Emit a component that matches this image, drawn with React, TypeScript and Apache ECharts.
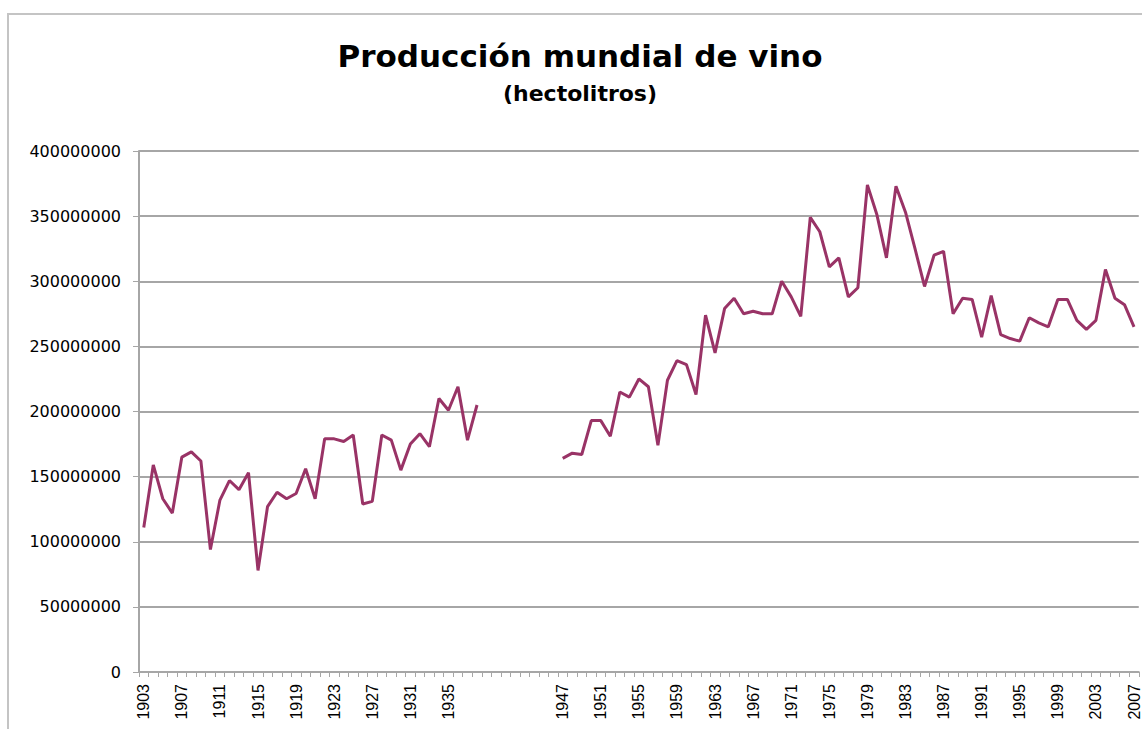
import React, { useEffect, useRef } from "react";
import * as echarts from "echarts";

const titleText = "Producción mundial de vino";
const subtitleText = "(hectolitros)";

// Millions of hectolitres, 1903-1938
const earlyStartYear = 1903;
const earlyValuesM = [
  111, 159, 133, 122, 165, 169, 162, 94, 132, 147,
  140, 153, 78, 127, 138, 133, 137, 156, 133, 179,
  179, 177, 182, 129, 131, 182, 178, 155, 175, 183,
  173, 210, 201, 219, 178, 205,
];

// Millions of hectolitres, 1947-2007
const lateStartYear = 1947;
const lateValuesM = [
  164, 168, 167, 193, 193, 181, 215, 211, 225, 219,
  174, 224, 239, 236, 213, 274, 245, 279, 287, 275,
  277, 275, 275, 300, 288, 273, 349, 338, 311, 318,
  288, 295, 374, 351, 318, 373, 353, 325, 296, 320,
  323, 275, 287, 286, 257, 289, 259, 256, 254, 272,
  268, 265, 286, 286, 270, 263, 270, 309, 287, 282,
  265,
];

const firstYear = 1903;
const lastYear = 2007;
const yTicks = [0, 50000000, 100000000, 150000000, 200000000, 250000000, 300000000, 350000000, 400000000];

export default function App() {
  const ref = useRef<HTMLDivElement>(null);

  useEffect(() => {
    if (!ref.current) return;
    const chart = echarts.init(ref.current, undefined, { renderer: "svg" });

    const years: string[] = [];
    const values: (number | null)[] = [];
    for (let y = firstYear; y <= lastYear; y++) {
      years.push(String(y));
      let v: number | null = null;
      const ei = y - earlyStartYear;
      const li = y - lateStartYear;
      if (ei >= 0 && ei < earlyValuesM.length) v = earlyValuesM[ei] * 1e6;
      if (li >= 0 && li < lateValuesM.length) v = lateValuesM[li] * 1e6;
      values.push(v);
    }

    const axisGray = "#a6a6a6";
    const font = "'DejaVu Sans', 'Liberation Sans', Arial, sans-serif";

    chart.setOption({
      animation: false,
      backgroundColor: "#ffffff",
      graphic: [
        {
          type: "rect",
          shape: { x: 8, y: 14, width: 1300, height: 900 },
          style: { fill: "none", stroke: "#c4c4c4", lineWidth: 2 },
          silent: true,
        },
        {
          type: "text",
          x: 580,
          y: 56,
          style: {
            text: titleText,
            font: `bold 31px ${font}`,
            fill: "#000000",
            align: "center",
            verticalAlign: "middle",
          },
        },
        {
          type: "text",
          x: 580,
          y: 93,
          style: {
            text: subtitleText,
            font: `bold 22px ${font}`,
            fill: "#000000",
            align: "center",
            verticalAlign: "middle",
          },
        },
      ],
      grid: { left: 139, right: 2, top: 151, bottom: 57, containLabel: false },
      xAxis: {
        type: "category",
        data: years,
        boundaryGap: true,
        axisLine: { show: true, lineStyle: { color: axisGray, width: 2 } },
        axisTick: { show: true, interval: 0, length: 5, lineStyle: { color: axisGray, width: 1 } },
        axisLabel: {
          interval: 3,
          rotate: 90,
          margin: 12,
          fontSize: 16,
          fontFamily: "'Liberation Sans', Arial, sans-serif",
          color: "#000000",
          formatter: (val: string, idx: number) => (values[idx] == null ? "" : val),
        },
        splitLine: { show: false },
      },
      yAxis: {
        type: "value",
        min: yTicks[0],
        max: yTicks[yTicks.length - 1],
        interval: yTicks[1] - yTicks[0],
        axisLine: { show: true, lineStyle: { color: axisGray, width: 2 } },
        axisTick: { show: true, inside: false, length: 6, lineStyle: { color: axisGray, width: 1 } },
        axisLabel: {
          margin: 18,
          fontSize: 16,
          fontFamily: font,
          color: "#000000",
          formatter: (v: number) => String(v),
        },
        splitLine: { show: true, lineStyle: { color: axisGray, width: 2 } },
      },
      series: [
        {
          type: "line",
          data: values,
          connectNulls: false,
          showSymbol: false,
          symbol: "none",
          lineStyle: { color: "#993366", width: 3 },
          itemStyle: { color: "#993366" },
        },
      ],
    });

    return () => chart.dispose();
  }, []);

  return (
    <div
      ref={ref}
      style={{ position: "fixed", left: 0, top: 0, width: 1142, height: 729, background: "#fff" }}
    />
  );
}
